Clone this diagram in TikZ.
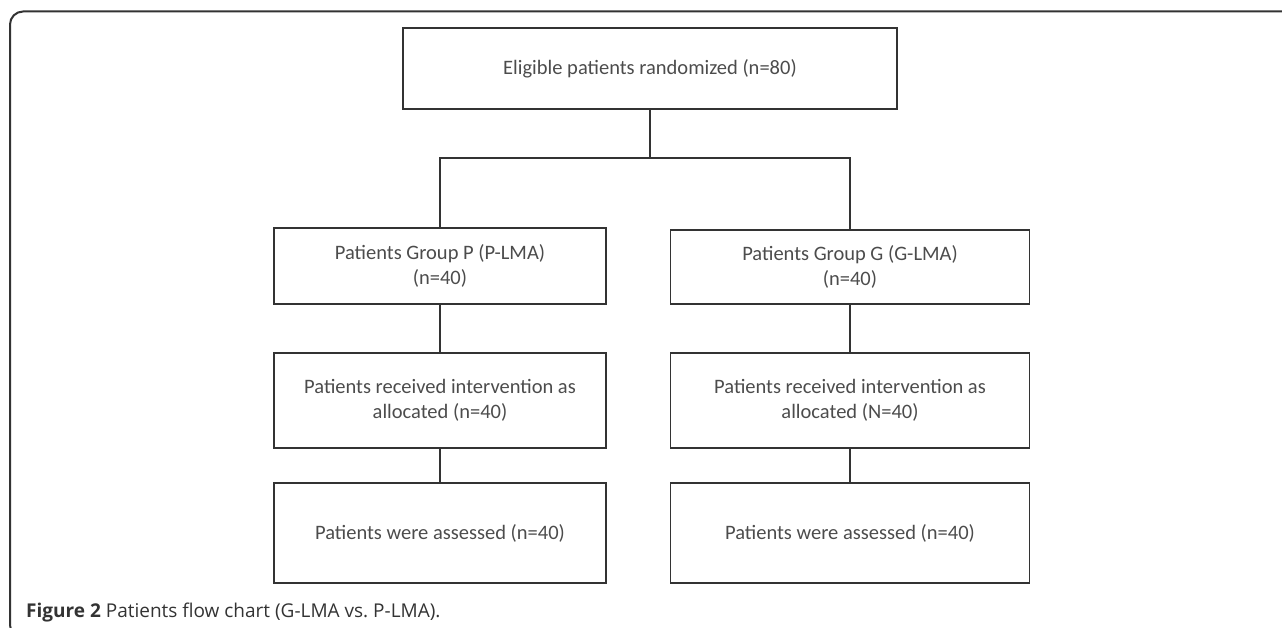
\documentclass[tikz,border=0pt]{standalone}
\usepackage{fontspec}
\setmainfont{Carlito}
\newfontfamily\capfont{Open Sans}
\begin{document}
\begin{tikzpicture}[x=1pt,y=-1pt,
  box/.style={draw=black!80, line width=1.4pt, align=center, text=black!70,
    font=\fontsize{20.5}{25.5}\selectfont, inner sep=0pt},
  link/.style={draw=black!80, line width=1.4pt}]
\useasboundingbox (0,0) rectangle (1282,628);
\begin{scope}
\clip (0,0) rectangle (1282,628);
\draw[line width=2pt, black!80, rounded corners=13pt] (40,638) -- (10,638) -- (10,11.5) -- (1300,11.5);
\end{scope}
\node[box, minimum width=494pt, minimum height=81pt] (top) at (650,68.5) {Eligible patients randomized (n=80)};
\node[box, minimum width=332pt, minimum height=76pt] (p1) at (440,266) {Patients Group P (P-LMA)\\(n=40)};
\node[box, minimum width=359pt, minimum height=74pt] (g1) at (850,267) {Patients Group G (G-LMA)\\(n=40)};
\node[box, minimum width=332pt, minimum height=95pt] (p2) at (440,400.5) {Patients received intervention as\\allocated (n=40)};
\node[box, minimum width=359pt, minimum height=95pt] (g2) at (850,400.5) {Patients received intervention as\\allocated (N=40)};
\node[box, minimum width=332pt, minimum height=100pt] (p3) at (440,533) {Patients were assessed (n=40)};
\node[box, minimum width=359pt, minimum height=100pt] (g3) at (850,533) {Patients were assessed (n=40)};
\coordinate (split) at (650,158);
\draw[link] (top.south) -- (split);
\draw[link] (p1.north) -- (p1.north |- split) -| (g1.north);
\draw[link] (p1.south) -- (p2.north);
\draw[link] (g1.south) -- (g2.north);
\draw[link] (p2.south) -- (p3.north);
\draw[link] (g2.south) -- (g3.north);
\node[anchor=base west, inner sep=0pt, text=black!80, font=\capfont\fontsize{19}{22}\selectfont] (cap) at (26,617) {\textbf{Figure 2} Patients flow chart (G-LMA vs.\ P-LMA).};
\end{tikzpicture}
\end{document}
